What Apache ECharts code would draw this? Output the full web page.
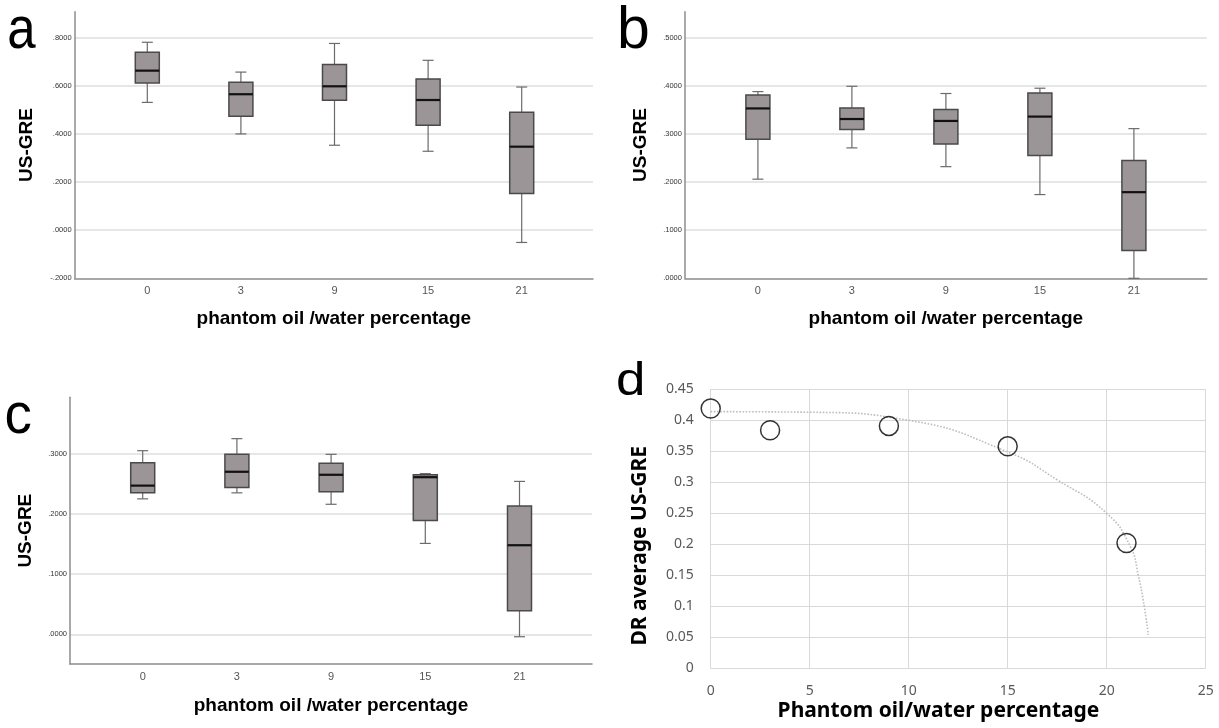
<!DOCTYPE html>
<html>
<head>
<meta charset="utf-8">
<script src="https://cdn.jsdelivr.net/npm/echarts@6/dist/echarts.min.js"></script>
<style>
    html, body { margin: 0; padding: 0; background: #fff; }
    #main { width: 1219px; height: 728px; }
</style>
</head>
<body>
<div id="main"></div>
<script>
    var categories = ['0', '3', '9', '15', '21'];

    // each box: [min, Q1, median, Q3, max]
    var boxA = [
        [0.531, 0.612, 0.663, 0.739, 0.781],
        [0.400, 0.473, 0.565, 0.615, 0.657],
        [0.353, 0.540, 0.598, 0.689, 0.776],
        [0.328, 0.436, 0.541, 0.628, 0.706],
        [-0.051, 0.152, 0.347, 0.490, 0.595]
    ];
    var boxB = [
        [0.206, 0.289, 0.353, 0.381, 0.388],
        [0.271, 0.309, 0.331, 0.354, 0.399],
        [0.232, 0.279, 0.327, 0.351, 0.384],
        [0.174, 0.255, 0.336, 0.385, 0.395],
        [0.000, 0.058, 0.179, 0.245, 0.311]
    ];
    var boxC = [
        [0.225, 0.235, 0.247, 0.285, 0.305],
        [0.235, 0.244, 0.270, 0.299, 0.325],
        [0.216, 0.237, 0.265, 0.284, 0.299],
        [0.151, 0.189, 0.261, 0.265, 0.267],
        [-0.004, 0.039, 0.148, 0.213, 0.254]
    ];

    // y tick labels of the three SPSS panels
    var ticksA = [-0.2, 0, 0.2, 0.4, 0.6, 0.8];
    var ticksB = [0, 0.1, 0.2, 0.3, 0.4, 0.5];
    var ticksC = [0, 0.1, 0.2, 0.3];

    // panel d: averages and the dotted trend line
    var dPercent = [0, 3, 9, 15, 21];
    var dAverage = [0.419, 0.384, 0.391, 0.358, 0.202];
    var trendX = [0, 5, 10, 15, 17.5, 20, 21.2, 21.6, 21.9, 22.1];
    var trendY = [0.414, 0.413, 0.400, 0.349, 0.304, 0.250, 0.196, 0.149, 0.099, 0.054];

    var myChart = echarts.init(document.getElementById('main'));

    var boldTitle = {fontFamily: 'Liberation Sans', fontWeight: 'bold', fontSize: 19, color: '#000'};

    function spssLabel(ticks) {
        return function (v) {
            for (var i = 0; i < ticks.length; i++) {
                if (Math.abs(ticks[i] - v) < 1e-6) {
                    var s = Math.abs(ticks[i]).toFixed(4).replace(/^0/, '');
                    return (ticks[i] < 0 ? '-' : '') + s;
                }
            }
            return '';
        };
    }

    function renderBox(params, api) {
        var i = api.value(0);
        var x = api.coord([i, 0])[0];
        var yMin = api.coord([i, api.value(1)])[1];
        var yQ1 = api.coord([i, api.value(2)])[1];
        var yMed = api.coord([i, api.value(3)])[1];
        var yQ3 = api.coord([i, api.value(4)])[1];
        var yMax = api.coord([i, api.value(5)])[1];
        var half = 12, cap = 5.5;
        var wStyle = {stroke: '#6b6b6b', lineWidth: 1.2};
        return {
            type: 'group',
            children: [
                {type: 'line', shape: {x1: x, y1: yMax, x2: x, y2: yQ3}, style: wStyle},
                {type: 'line', shape: {x1: x, y1: yQ1, x2: x, y2: yMin}, style: wStyle},
                {type: 'line', shape: {x1: x - cap, y1: yMax, x2: x + cap, y2: yMax}, style: wStyle},
                {type: 'line', shape: {x1: x - cap, y1: yMin, x2: x + cap, y2: yMin}, style: wStyle},
                {type: 'rect', shape: {x: x - half, y: yQ3, width: half * 2, height: yQ1 - yQ3},
                    style: {fill: '#9b9597', stroke: '#4a4a4a', lineWidth: 1.5}},
                {type: 'line', shape: {x1: x - half, y1: yMed, x2: x + half, y2: yMed},
                    style: {stroke: '#111', lineWidth: 2.2}}
            ]
        };
    }

    function boxData(list) {
        return list.map(function (d, i) { return [i].concat(d); });
    }

    // frame axes (outline, gridlines, titles) + box axes (categories) for panels a, b, c
    function frameX(gi, gap) {
        return {
            gridIndex: gi, type: 'value', min: 0, max: 1,
            axisLine: {show: true, onZero: false, lineStyle: {color: '#8c8c8c', width: 1.5}},
            axisTick: {show: false}, axisLabel: {show: false}, splitLine: {show: false},
            name: 'phantom oil /water percentage', nameLocation: 'middle', nameGap: gap,
            nameTextStyle: boldTitle
        };
    }
    function boxX(gi) {
        return {
            gridIndex: gi, type: 'category', data: categories,
            axisLine: {show: false, onZero: false}, axisTick: {show: false}, splitLine: {show: false},
            axisLabel: {color: '#555', fontSize: 11, fontFamily: 'Liberation Sans', margin: 7}
        };
    }
    function frameY(gi, min, max, ticks, gap) {
        return {
            gridIndex: gi, type: 'value', min: min, max: max,
            axisLine: {show: true, onZero: false, lineStyle: {color: '#8c8c8c', width: 1.5}},
            axisTick: {show: false},
            axisLabel: {formatter: spssLabel(ticks), fontSize: 7.5, color: '#333', margin: 3,
                fontFamily: 'Liberation Sans'},
            splitLine: {show: true, showMinLine: false, showMaxLine: false,
                lineStyle: {color: '#dedede', width: 1.5}},
            name: 'US-GRE', nameLocation: 'middle', nameGap: gap, nameTextStyle: boldTitle
        };
    }
    function boxY(gi, min, max) {
        return {gridIndex: gi, type: 'value', min: min, max: max, show: false, splitLine: {show: false}};
    }

    var dFont = 'Noto Sans';

    var option = {
        animation: false,
        backgroundColor: '#fff',
        grid: [
            {left: 74.6, top: 11.7, width: 518.4, height: 266.6},
            {left: 100.5, top: 11.7, width: 468, height: 266.6},
            {left: 684.9, top: 11.7, width: 521.9, height: 266.6},
            {left: 710.9, top: 11.7, width: 470, height: 266.6},
            {left: 70, top: 397.3, width: 522, height: 266.7},
            {left: 95.6, top: 397.3, width: 471, height: 266.7},
            {left: 710.7, top: 389.3, width: 495, height: 279}
        ],
        xAxis: [
            frameX(0, 31), boxX(1),
            frameX(2, 31), boxX(3),
            frameX(4, 32), boxX(5),
            {
                gridIndex: 6, type: 'value', min: 0, max: 25, interval: 5,
                axisLine: {show: false}, axisTick: {show: false},
                axisLabel: {color: '#595959', fontSize: 14, fontFamily: dFont, margin: 16},
                splitLine: {show: true, lineStyle: {color: '#d9d9d9', width: 1}}
            }
        ],
        yAxis: [
            frameY(0, -0.2, 0.908, ticksA, 38), boxY(1, -0.2, 0.908),
            frameY(2, 0, 0.554, ticksB, 35), boxY(3, 0, 0.554),
            frameY(4, -0.0493, 0.3937, ticksC, 35), boxY(5, -0.0493, 0.3937),
            {
                gridIndex: 6, type: 'value', min: 0, max: 0.45, interval: 0.05,
                axisLine: {show: true, lineStyle: {color: '#d9d9d9', width: 1}}, axisTick: {show: false},
                axisLabel: {color: '#595959', fontSize: 14, fontFamily: dFont, margin: 17},
                splitLine: {show: true, lineStyle: {color: '#d9d9d9', width: 1}}
            }
        ],
        series: [
            {type: 'custom', xAxisIndex: 1, yAxisIndex: 1, renderItem: renderBox,
                encode: {x: 0, y: [1, 2, 3, 4, 5]}, data: boxData(boxA), silent: true},
            {type: 'custom', xAxisIndex: 3, yAxisIndex: 3, renderItem: renderBox,
                encode: {x: 0, y: [1, 2, 3, 4, 5]}, data: boxData(boxB), silent: true},
            {type: 'custom', xAxisIndex: 5, yAxisIndex: 5, renderItem: renderBox,
                encode: {x: 0, y: [1, 2, 3, 4, 5]}, data: boxData(boxC), silent: true},
            {
                type: 'line', xAxisIndex: 6, yAxisIndex: 6, smooth: true, showSymbol: false, z: 1,
                data: trendX.map(function (x, i) { return [x, trendY[i]]; }),
                lineStyle: {type: 'dotted', color: '#bdbdbd', width: 1.6}, silent: true
            },
            {
                type: 'scatter', xAxisIndex: 6, yAxisIndex: 6, symbol: 'circle', symbolSize: 19, z: 3,
                data: dPercent.map(function (x, i) { return [x, dAverage[i]]; }),
                itemStyle: {color: 'rgba(0,0,0,0)', borderColor: '#000', borderWidth: 1.5}, silent: true
            }
        ],
        graphic: [
            {type: 'text', x: 7.3, y: 31.4, scaleX: 0.85,
                style: {text: 'a', font: '60px "Liberation Sans"', fill: '#000', verticalAlign: 'middle'}},
            {type: 'text', x: 617, y: 31.7,
                style: {text: 'b', font: '59px "Liberation Sans"', fill: '#000', verticalAlign: 'middle'}},
            {type: 'text', x: 4.4, y: 417.3, scaleX: 0.96,
                style: {text: 'c', font: '57px "Liberation Sans"', fill: '#000', verticalAlign: 'middle'}},
            {type: 'text', x: 616, y: 382.7, scaleX: 1.15,
                style: {text: 'd', font: '46px "Liberation Sans"', fill: '#000', verticalAlign: 'middle'}},
            {type: 'text', x: 938.5, y: 711,
                style: {text: 'Phantom oil/water percentage', font: 'bold 21px "Noto Sans"', fill: '#000',
                    align: 'center', verticalAlign: 'middle'}},
            {type: 'text', x: 640.5, y: 545.8, rotation: Math.PI / 2,
                style: {text: 'DR average US-GRE', font: 'bold 21px "Noto Sans"', fill: '#000',
                    align: 'center', verticalAlign: 'middle'}}
        ]
    };
    myChart.setOption(option);
</script>
</body>
</html>
